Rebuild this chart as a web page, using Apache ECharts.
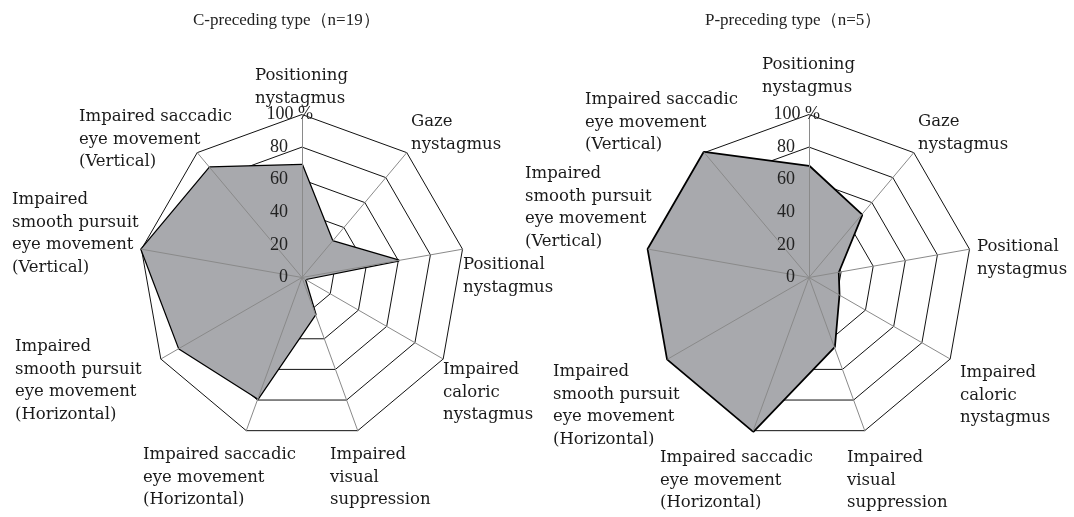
<!DOCTYPE html>
<html>
<head>
<meta charset="utf-8">
<script src="https://cdn.jsdelivr.net/npm/echarts@6/dist/echarts.min.js"></script>
<style>
  html, body { margin: 0; padding: 0; background: #fff; }
  #chart { width: 1074px; height: 517px; }
</style>
</head>
<body>
<div id="chart"></div>
<script>
// indicators, clockwise from the top
const categories = [
  'Positioning\nnystagmus',
  'Gaze\nnystagmus',
  'Positional\nnystagmus',
  'Impaired\ncaloric\nnystagmus',
  'Impaired\nvisual\nsuppression',
  'Impaired saccadic\neye movement\n(Horizontal)',
  'Impaired\nsmooth pursuit\neye movement\n(Horizontal)',
  'Impaired\nsmooth pursuit\neye movement\n(Vertical)',
  'Impaired saccadic\neye movement\n(Vertical)'
];
const titles = ['C-preceding type（n=19）', 'P-preceding type（n=5）'];
const cValues = [69, 29, 60, 2, 24, 79, 87, 100, 88];
const pValues = [68, 50, 18, 21, 45, 100, 100, 100, 100];
const ticks = [0, 20, 40, 60, 80, 100];

// where each indicator name sits: [left, centre of first line]
const leftNamePos = [[255, 76], [411, 122], [463, 265], [443, 370], [330, 455],
  [143, 455], [15, 347], [12, 200], [79, 117]];
const rightNamePos = [[762, 65], [918, 122], [977, 247], [960, 373], [847, 458],
  [660, 458], [553, 372], [525, 174], [585, 100]];

const centers = [[302, 277.5], [809, 277.5]];
const R = 163;
const lineH = 22.5;

// echarts lays indicators out counter-clockwise, so flip the order
const order = categories.map((c, i) => (i === 0 ? 0 : categories.length - i));
const reorder = arr => order.map(i => arr[i]);

function indicators(withLabel) {
  return order.map((i, k) => {
    const o = { name: categories[i], max: ticks[ticks.length - 1], min: 0 };
    if (withLabel && k > 0) o.axisLabel = { show: false };
    return o;
  });
}

function ringRadar(c) {
  return {
    center: c, radius: R, startAngle: 90, shape: 'polygon',
    splitNumber: ticks.length - 1,
    indicator: indicators(false),
    axisName: { show: false },
    axisLine: { show: false },
    splitLine: { lineStyle: { color: '#111', width: 1 } },
    splitArea: { show: false },
    z: 0
  };
}

function spokeRadar(c) {
  return {
    center: c, radius: R, startAngle: 90, shape: 'polygon',
    splitNumber: ticks.length - 1,
    indicator: indicators(true),
    axisName: { show: false },
    axisLine: { show: true, lineStyle: { color: '#8a8a8a', width: 1 } },
    splitLine: { show: false },
    splitArea: { show: false },
    axisLabel: {
      show: true, margin: -11, color: '#222',
      fontFamily: 'Liberation Serif', fontSize: 18,
      formatter: v => (v === 100 ? '{h|100 %}' : '{n|' + v + '}'),
      rich: {
        h: { fontFamily: 'Liberation Serif', fontSize: 18, color: '#222' },
        n: { fontFamily: 'Liberation Serif', fontSize: 18, color: '#222', padding: [0, 25, 0, 0] }
      }
    },
    z: 3
  };
}

function nameTexts(pos) {
  return categories.map((t, i) => ({
    type: 'text',
    x: pos[i][0],
    y: pos[i][1] - lineH / 2,
    z: 10,
    style: {
      text: t, fill: '#1a1a1a', lineHeight: lineH,
      font: '16.5px "DejaVu Serif"', verticalAlign: 'top', align: 'left'
    }
  }));
}

function areaSeries(radarIndex, values, w) {
  return {
    type: 'radar', radarIndex: radarIndex, symbol: 'none', z: 2,
    lineStyle: { color: '#000', width: w },
    areaStyle: { color: '#a8a9ad', opacity: 1 },
    data: [{ value: reorder(values) }]
  };
}

const chart = echarts.init(document.getElementById('chart'));
chart.setOption({
  animation: false,
  backgroundColor: '#fff',
  title: [
    { text: titles[0], left: 188, top: 7, textStyle: { fontFamily: 'Liberation Serif', fontSize: 17, fontWeight: 'normal', color: '#222' } },
    { text: titles[1], left: 700, top: 7, textStyle: { fontFamily: 'Liberation Serif', fontSize: 17, fontWeight: 'normal', color: '#222' } }
  ],
  radar: [ringRadar(centers[0]), spokeRadar(centers[0]), ringRadar(centers[1]), spokeRadar(centers[1])],
  series: [areaSeries(0, cValues, 2.5), areaSeries(2, pValues, 3.5)],
  graphic: nameTexts(leftNamePos).concat(nameTexts(rightNamePos))
});
</script>
</body>
</html>
